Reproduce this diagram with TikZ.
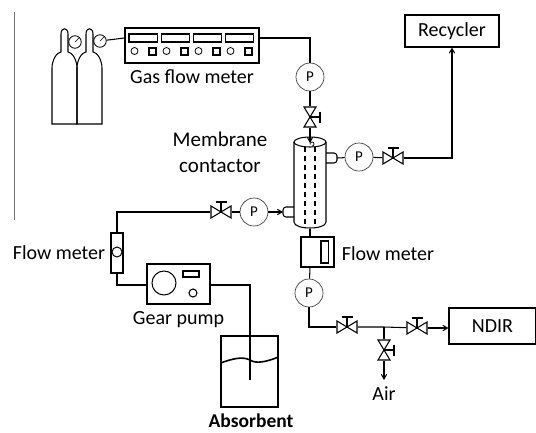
\documentclass[tikz,border=0pt]{standalone}
\usepackage{fontspec}
\setmainfont{Carlito}
\usetikzlibrary{arrows,positioning}
\newcommand{\valve}[3]{%
\node[valvenode,rotate=#3] (#1) at (#2) {};
\begin{scope}[shift={(#1.center)},rotate=#3]
\draw (-10pt,-6pt) -- (10pt,6pt) -- (10pt,-6pt) -- (-10pt,6pt) -- cycle;
\draw (0pt,0pt) -- (0pt,10pt);
\draw (-5.5pt,10pt) -- (5.5pt,10pt);
\end{scope}}
\begin{document}
\begin{tikzpicture}[
x=1pt,y=-1pt,
line width=1.05pt,
boxnode/.style={rectangle, draw, inner sep=0pt},
pressnode/.style={circle, draw=black!75, line width=0.7pt, minimum size=28pt, inner sep=0pt, font=\rmfamily\fontsize{15}{15}\selectfont},
valvenode/.style={rectangle, minimum width=20pt, minimum height=12pt, inner sep=0pt},
labelnode/.style={inner sep=0pt, font=\fontsize{20}{22}\selectfont},
gaugenode/.style={circle, draw, minimum size=12.5pt, inner sep=0pt, line width=0.8pt}]
\useasboundingbox (0,0) rectangle (536,432);
% Nodes
\node[boxnode, minimum width=134pt, minimum height=35pt] (gasmeter) at (192,45.5) {};
\node[labelnode] (gaslabel) [below=6pt of gasmeter] {Gas flow meter};
\node[gaugenode] (gauge1) at (75,42) {};
\node[gaugenode] (gauge2) at (100,41) {};
\node[pressnode] (p1) at (310,77) {P};
\valve{v1}{310,117}{-90}
\node[rectangle, minimum width=32pt, minimum height=86pt, inner sep=0pt] (contactor) at (310,185) {};
\node[labelnode, align=center, font=\fontsize{21}{26}\selectfont] (contactlabel) at (220,152) {Membrane\\contactor};
\node[pressnode] (p2) at (359,157) {P};
\valve{v2}{393,158}{0}
\node[boxnode, minimum width=94pt, minimum height=32pt, font=\fontsize{20}{22}\selectfont] (recycler) at (452,31) {Recycler};
\node[pressnode] (p3) at (254,212) {P};
\valve{v3}{221,212}{0}
\node[boxnode, minimum width=12pt, minimum height=40pt] (flowleft) at (117,253) {};
\node[gaugenode, minimum size=10pt, line width=1pt] (flowball) at (117,252) {};
\node[labelnode] (flowleftlabel) at (59,253) {Flow meter};
\node[boxnode, minimum width=63pt, minimum height=40pt] (pump) at (178.5,284) {};
\node[labelnode] (pumplabel) [below=6pt of pump] {Gear pump};
\node[boxnode, minimum width=57pt, minimum height=71pt] (tank) at (249.5,371.5) {};
\node[labelnode, font=\bfseries\fontsize{19.5}{20}\selectfont] (tanklabel) at (251,421) {Absorbent};
\node[boxnode, minimum width=33pt, minimum height=30pt] (flowright) at (317.5,252) {};
\node[labelnode] (flowrightlabel) at (388,254) {Flow meter};
\node[pressnode] (p4) at (309,293) {P};
\valve{v4}{347,327}{0}
\valve{v5}{417,328}{0}
\valve{v6}{384,350}{-90}
\node[labelnode] (airlabel) at (384,394) {Air};
\node[boxnode, minimum width=87pt, minimum height=36pt, font=\fontsize{20}{22}\selectfont] (ndir) at (492.5,326) {NDIR};
\coordinate (portright) at (337,158);
\coordinate (portleft) at (283,212);
\coordinate (inlet) at (310,143);
\coordinate (dip) at (250,380);
\coordinate (branch) at (384,327);
\coordinate (airend) at (384,380);
% Lines
\draw ([yshift=7.5pt]gasmeter.east) -| (p1);
\draw (gauge2) -- ([yshift=7.5pt]gasmeter.west);
\draw (p1) -- (v1);
\draw[arrows={-angle 60}] (v1) -- (inlet);
\draw (portright) -- (p2);
\draw (p2) -- (v2);
\draw[arrows={-angle 60}] (v2) -| (recycler);
\draw[arrows={-angle 60}] (p3) -- (portleft);
\draw (p3) -- (v3);
\draw (v3) -| (flowleft);
\draw ([yshift=-1pt]pump.west) -| (flowleft);
\draw ([yshift=-1pt]pump.east) -| (dip);
\draw ([xshift=-7.5pt]flowright.north) -- ([xshift=-7.5pt]flowright.north |- contactor.south);
\draw ([xshift=-7.5pt]flowright.south) -- (p4);
\draw (p4) |- (v4);
\draw (v4) -- (branch) -- (v5);
\draw (branch) -- (v6);
\draw[arrows={-angle 60}] (v5) -- (ndir.west |- v5);
\draw[arrows={-angle 60}] (v6) -- (airend);
% Bottles
\foreach \x in {0,25} {
\draw[shift={(\x pt,0pt)}] (52,124) -- (52,68) .. controls (52,60) and (57,52) .. (61,52) -- (61,34) .. controls (61,27) and (68,27) .. (68,34) -- (68,52) .. controls (72,52) and (77,60) .. (77,68) -- (77,124) -- cycle;
}
\draw[line width=0.6pt] (gauge1.center) -- (gauge1.north east);
\draw[line width=0.6pt] (gauge2.center) -- (gauge2.north east);
% Gas flow meter panel
\foreach \i in {0,1,2,3} {
\draw (129+32.1*\i,34) rectangle +(28.5,8);
\draw[line width=0.8pt] (134.5+32*\i,51) circle (3.5pt);
\draw (149+32*\i,48) rectangle +(7,7);
}
% Contactor
\draw (294,142) -- (294,222) .. controls (294,226) and (302,228) .. (310,228) .. controls (318,228) and (326,226) .. (326,222) -- (326,142);
\draw (310,142) ellipse (16pt and 5pt);
\draw[dash pattern=on 5pt off 4pt] (305,147) -- (305,228);
\draw[dash pattern=on 5pt off 4pt] (315,147) -- (315,228);
\draw[rounded corners=3pt] (326,153) -- (337,153) -- (337,163) -- (326,163);
\draw[rounded corners=3pt] (294,207) -- (283,207) -- (283,217) -- (294,217);
\draw[line width=0.7pt] (312,146) arc (-90:200:2pt);
% Pump and flow meter details
\draw (164,283) circle (12pt);
\draw (183,271) rectangle (199,277);
\draw (193,293) circle (4pt);
\draw (321,241) rectangle (328.5,263);
% Absorbent level
\draw[line width=1.6pt] (tank.west |- 0,363) .. controls (232,359) and (242,356) .. (250,360) .. controls (256,364) and (266,362) .. (tank.east |- 0,357);
% Edge rule
\draw[black!55, line width=1pt] (14,12) -- (14,220);
\end{tikzpicture}
\end{document}
